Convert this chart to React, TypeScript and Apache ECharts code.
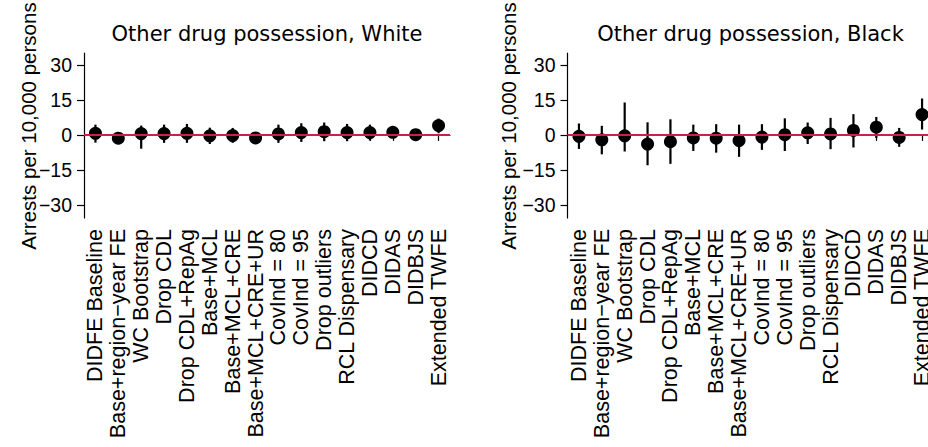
import React, { useEffect, useRef } from "react";
import * as echarts from "echarts";

const categories = [
  "DIDFE Baseline",
  "Base+region−year FE",
  "WC Bootstrap",
  "Drop CDL",
  "Drop CDL+RepAg",
  "Base+MCL",
  "Base+MCL+CRE",
  "Base+MCL+CRE+UR",
  "CovInd = 80",
  "CovInd = 95",
  "Drop outliers",
  "RCL Dispensary",
  "DIDCD",
  "DIDAS",
  "DIDBJS",
  "Extended TWFE",
];

const whiteEst = [0.7, -1.4, 0.6, 0.6, 0.7, -0.4, -0.3, -1.3, 0.4, 1.0, 1.4, 1.0, 1.0, 1.1, 0.1, 4.0];
const whiteLo = [-3.3, -3.7, -5.9, -3.4, -3.4, -3.9, -3.4, -3.2, -3.4, -3.0, -2.7, -2.7, -2.4, -1.3, -1.6, 0.7];
const whiteHi = [4.4, 0.7, 4.0, 4.4, 4.7, 3.1, 3.0, 0.6, 4.4, 5.0, 5.3, 4.7, 4.4, 3.4, 1.9, 7.0];

const blackEst = [-0.6, -2.1, -0.4, -3.9, -2.9, -1.3, -1.4, -2.4, -0.9, 0.1, 0.9, 0.4, 1.9, 3.3, -1.1, 8.7];
const blackLo = [-6.0, -8.3, -7.1, -13.0, -12.4, -6.9, -7.6, -9.4, -6.4, -6.9, -3.9, -6.1, -5.4, -1.3, -5.1, 2.3];
const blackHi = [4.9, 3.9, 13.9, 5.4, 6.7, 4.4, 4.6, 4.4, 4.6, 7.1, 5.3, 7.3, 8.9, 7.7, 3.0, 15.6];

const yTicks = [-30, -15, 0, 15, 30];
const titles = ["Other drug possession, White", "Other drug possession, Black"];
const yTitle = "Arrests per 10,000 persons";

const FONT = "'Liberation Sans', Arial, Helvetica, sans-serif";

export default function App() {
  const ref = useRef<HTMLDivElement>(null);

  useEffect(() => {
    if (!ref.current) return;
    const chart = echarts.init(ref.current, undefined, { renderer: "svg" });

    const gridLefts = [84, 567.5];
    const grids = gridLefts.map((l) => ({
      left: l,
      top: 53,
      width: 366,
      height: 165,
      containLabel: false,
      outerBoundsMode: "none",
    }));

    const xAxes = [0, 1].map((i) => ({
      type: "category",
      gridIndex: i,
      data: categories,
      boundaryGap: true,
      axisLine: { show: true, lineStyle: { color: "#000", width: 1.2 } },
      axisTick: { show: true, alignWithLabel: true, length: 6, lineStyle: { color: "#000", width: 1.2 } },
      axisLabel: {
        rotate: 90,
        interval: 0,
        margin: 11,
        fontSize: 21.5,
        color: "#000",
        fontFamily: FONT,
      },
      splitLine: { show: false },
    }));

    const yAxes = [0, 1].map((i) => ({
      type: "value",
      gridIndex: i,
      min: -35.6,
      max: 35.1,
      axisLine: { show: true, lineStyle: { color: "#000", width: 1.2 } },
      axisTick: {
        show: true,
        length: 7,
        customValues: yTicks,
        lineStyle: { color: "#000", width: 1.2 },
      },
      axisLabel: {
        customValues: yTicks,
        margin: 12,
        fontSize: 19.5,
        color: "#000",
        fontFamily: FONT,
        formatter: (v: number) => (v < 0 ? "\u2212" + Math.abs(v) : String(v)),
      },
      splitLine: { show: false },
    }));

    const panels = [
      { est: whiteEst, lo: whiteLo, hi: whiteHi },
      { est: blackEst, lo: blackLo, hi: blackHi },
    ];

    const series: any[] = [];
    panels.forEach((p, i) => {
      series.push({
        type: "scatter",
        xAxisIndex: i,
        yAxisIndex: i,
        data: [0],
        symbolSize: 0,
        silent: true,
        z: 1,
        markLine: {
          silent: true,
          symbol: "none",
          label: { show: false },
          lineStyle: { color: "#cc1f4a", width: 2, type: "solid", opacity: 1 },
          data: [{ yAxis: 0 }],
        },
      });
      series.push({
        type: "custom",
        xAxisIndex: i,
        yAxisIndex: i,
        z: 3,
        data: categories.map((_, k) => [k, p.lo[k], p.hi[k]]),
        renderItem: (_params: any, api: any) => {
          const x = api.value(0);
          const a = api.coord([x, api.value(1)]);
          const b = api.coord([x, api.value(2)]);
          return {
            type: "line",
            shape: { x1: a[0], y1: a[1], x2: b[0], y2: b[1] },
            style: { stroke: "#000", lineWidth: 2.2 },
          };
        },
      });
      series.push({
        type: "scatter",
        xAxisIndex: i,
        yAxisIndex: i,
        z: 4,
        data: p.est,
        symbol: "circle",
        symbolSize: 13,
        itemStyle: { color: "#000", opacity: 1 },
      });
    });

    const graphic: any[] = [];
    const titleCenters = [267, 750.5];
    titleCenters.forEach((cx, i) => {
      graphic.push({
        type: "text",
        x: cx,
        y: 34,
        style: {
          text: titles[i],
          fontSize: 21,
          fontFamily: "'DejaVu Sans', sans-serif",
          fill: "#000",
          align: "center",
          verticalAlign: "middle",
        },
      });
    });
    const yTitleX = [28.5, 508.5];
    yTitleX.forEach((x) => {
      graphic.push({
        type: "text",
        x,
        y: 126,
        rotation: Math.PI / 2,
        style: {
          text: yTitle,
          fontSize: 20.5,
          fontFamily: FONT,
          fill: "#000",
          align: "center",
          verticalAlign: "middle",
        },
      });
    });

    chart.setOption({
      animation: false,
      backgroundColor: "#fff",
      grid: grids,
      xAxis: xAxes,
      yAxis: yAxes,
      series,
      graphic,
    } as any);

    return () => chart.dispose();
  }, []);

  return (
    <div
      ref={ref}
      style={{ position: "fixed", left: 0, top: 0, width: 928, height: 447 }}
    />
  );
}
